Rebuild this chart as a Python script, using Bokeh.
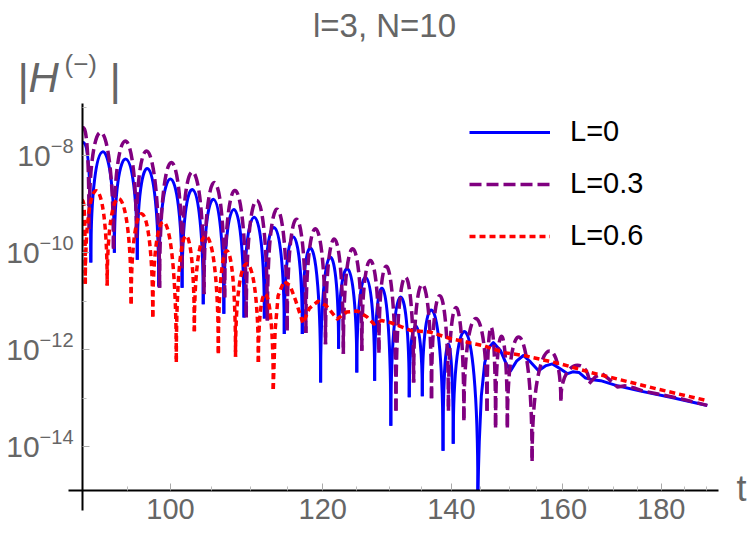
import math

from bokeh.plotting import figure
from bokeh.models import (ColumnDataSource, FixedTicker, CustomJSTickFormatter,
                          Label, Legend, LegendItem)
from bokeh.embed import file_html
from bokeh.resources import INLINE

# |H^(-)| against t for l=3, N=10.
# Ringing part of each curve: value at t=90, then the zeros (dips) and the maximum of
# every lobe between two neighbouring dips.  Late part: plain samples along the curve.

# L = 0
l0_start = (90.0, 1.9e-8)
l0_dip_t = [90.9, 93.5, 96.1, 98.6, 101.4, 104.0, 106.6, 109.2, 111.9, 114.6,
            117.1, 119.7, 122.3, 125.0, 127.7, 130.2, 133.1, 135.2, 138.6, 140.3, 144.5]
l0_dip_h = [6.3e-11, 1.0e-10, 7.2e-11, 2.0e-11, 1.9e-11, 8.7e-12, 5.5e-12,
            4.6e-12, 4.4e-12, 2.1e-12, 2.1e-12, 2.1e-13, 1.05e-12, 3.4e-13, 2.3e-13,
            2.7e-14, 1.05e-13, 1.1e-13, 8.3e-15, 1.15e-14, 1.25e-15]
l0_peak_h = [1.2e-8, 8.5e-9, 5.4e-9, 3.3e-9, 2.0e-9, 1.26e-9, 7.8e-10, 5.4e-10,
             3.3e-10, 2.1e-10, 1.2e-10, 7.9e-11, 4.6e-11, 3.1e-11, 1.8e-11, 1.2e-11,
             3.1e-12, 6.3e-12, 1.3e-12, 2.3e-12]
l0_tail_t = [144.5, 144.75, 145.1, 145.7, 146.4, 147.2, 148.5, 149.4, 150.3, 151.4,
             152.6, 153.9, 155.4, 156.8, 158.0, 159.4, 160.9, 161.9, 163.1, 164.4,
             165.8, 167.4, 170.8, 175.6, 182.0, 190.2]
l0_tail_h = [1.25e-15, 1.3e-14, 1.1e-13, 5.4e-13, 1.1e-12, 1.4e-12, 9.5e-13, 5.4e-13,
             3.7e-13, 5.9e-13, 7.6e-13, 5.6e-13, 3.7e-13, 4.7e-13, 5.1e-13, 4.1e-13,
             3.2e-13, 3.5e-13, 3.4e-13, 2.6e-13, 2.4e-13, 2.3e-13, 1.8e-13, 1.4e-13,
             1.05e-13, 7.1e-14]

# L = 0.3
l3_start = (90.0, 3.8e-8)
l3_dip_t = [90.7, 93.4, 96.0, 98.7, 101.4, 104.1, 106.7, 109.5, 112.3, 115.0,
            117.6, 120.4, 123.0, 125.75, 128.35, 131.0, 133.8, 136.7, 139.5, 142.1,
            146.1, 147.6, 149.7, 154.2, 159.6, 165.1]
l3_dip_h = [3.1e-10, 1.2e-10, 2.0e-10, 1.9e-11, 4.7e-11, 1.4e-11, 1.2e-11,
            4.6e-12, 4.0e-12, 2.5e-12, 2.2e-12, 1.3e-12, 8.3e-13, 9.5e-13, 8.7e-13,
            5.5e-14, 2.1e-13, 1.0e-13, 5.5e-14, 3.5e-14, 5.5e-14, 2.5e-14, 2.5e-14,
            5.1e-15, 8.9e-14, 2.0e-13]
l3_peak_h = [3.0e-8, 2.0e-8, 1.2e-8, 7.2e-9, 4.6e-9, 2.8e-9, 1.9e-9, 1.2e-9,
             7.9e-10, 4.9e-10, 3.1e-10, 1.9e-10, 1.2e-10, 6.9e-11, 5.0e-11, 3.1e-11,
             2.2e-11, 1.3e-11, 7.4e-12, 4.4e-12, 2.9e-12, 1.9e-12, 1.8e-12, 8.7e-13,
             4.7e-13]
l3_tail_t = [165.1, 166.4, 167.7, 169.0, 170.8, 172.4, 174.5, 176.2, 179.8, 184.2, 190.2]
l3_tail_h = [2.0e-13, 2.8e-13, 3.2e-13, 2.5e-13, 1.7e-13, 1.8e-13, 1.6e-13, 1.4e-13,
             1.2e-13, 9.8e-14, 7.1e-14]

# L = 0.6
l6_start = (90.0, 1.2e-9)
l6_dip_t = [90.3, 92.7, 95.4, 97.9, 100.7, 102.9, 105.9, 108.1, 111.1, 113.1]
l6_dip_h = [2.3e-11, 2.1e-11, 8.9e-12, 4.8e-12, 5.6e-13, 2.4e-12, 8.5e-13,
            7.2e-13, 5.6e-13, 1.55e-13]
l6_peak_h = [1.9e-9, 1.3e-9, 6.3e-10, 4.2e-10, 2.2e-10, 2.2e-10, 1.1e-10,
             5.9e-11, 1.4e-11]
l6_tail_t = [113.1, 113.35, 113.76, 114.55, 115.4, 116.2, 117.2, 118.1, 119.3, 120.5,
             122.1, 123.5, 125.1, 126.5, 127.6, 128.75, 130.2, 133.3, 136.5, 139.8,
             145.6, 149.1, 152.6, 159.6, 165.4, 171.4, 179.1, 190.2]
l6_tail_h = [1.55e-13, 2.5e-12, 1.3e-11, 2.6e-11, 2.1e-11, 1.0e-11, 3.5e-12, 7.1e-12,
             1.0e-11, 8.1e-12, 4.3e-12, 6.0e-12, 6.3e-12, 4.8e-12, 3.4e-12, 4.0e-12,
             3.6e-12, 2.5e-12, 2.3e-12, 1.7e-12, 1.2e-12, 8.7e-13, 7.6e-13, 5.1e-13,
             3.4e-13, 2.4e-13, 1.55e-13, 8.9e-14]

x_major = [100, 120, 140, 160, 180]
x_minor = [95, 105, 110, 115, 125, 130, 135, 145, 150, 155, 165, 170, 175, 185, 190]
y_major = [1e-14, 1e-12, 1e-10, 1e-8]
y_minor = [1e-13, 1e-11, 1e-9, 1e-7]
y_exponents = ["\u221214", "\u221212", "\u221210", "\u22128"]

T_MIN, H_MIN = 90.0, 10 ** -14.91          # where the two axes cross
series = [
    ("L=0", "#0000ff", 3.0, "solid", l0_start, l0_dip_t, l0_dip_h, l0_peak_h, l0_tail_t, l0_tail_h),
    ("L=0.3", "#800080", 3.5, "12 5", l3_start, l3_dip_t, l3_dip_h, l3_peak_h, l3_tail_t, l3_tail_h),
    ("L=0.6", "#ff0000", 3.5, "6 4", l6_start, l6_dip_t, l6_dip_h, l6_peak_h, l6_tail_t, l6_tail_h),
]

GRAY = "#666666"
FONT = "Liberation Sans"


def lobe_source(start, dip_t, dip_h, peak_h):
    """Cubic Bezier lobes: each leaves a dip vertically and tops out at the lobe maximum.
    The first piece runs from the value at t=90 down into the first dip."""
    cols = {k: [] for k in ("x0", "y0", "x1", "y1", "cx0", "cy0", "cx1", "cy1")}
    t0, h0 = start
    cols["x0"].append(t0); cols["y0"].append(h0)
    cols["x1"].append(dip_t[0]); cols["y1"].append(dip_h[0])
    cols["cx0"].append(t0 + (dip_t[0] - t0) / 3); cols["cy0"].append(h0)
    cols["cx1"].append(dip_t[0]); cols["cy1"].append(h0)
    for i, hp in enumerate(peak_h):
        la, lb = math.log10(dip_h[i]), math.log10(dip_h[i + 1])
        top = 10 ** ((math.log10(hp) - 0.125 * (la + lb)) / 0.75)
        cols["x0"].append(dip_t[i]); cols["y0"].append(dip_h[i])
        cols["x1"].append(dip_t[i + 1]); cols["y1"].append(dip_h[i + 1])
        cols["cx0"].append(dip_t[i]); cols["cy0"].append(top)
        cols["cx1"].append(dip_t[i + 1]); cols["cy1"].append(top)
    return ColumnDataSource(cols)


# the frame fills the page; both axes sit at fixed data positions inside it
p = figure(width=750, height=534, x_axis_type="log", y_axis_type="log",
           x_range=(81.58, 200.3), y_range=(10 ** -15.81, 10 ** -4.80),
           output_backend="svg", toolbar_location=None,
           min_border_left=0, min_border_right=0, min_border_top=0, min_border_bottom=0)
p.outline_line_color = None
p.background_fill_color = "white"
p.border_fill_color = "white"
p.xgrid.visible = False
p.ygrid.visible = False

legend_items = []
for name, color, width, dash, st, dt, dh, ph, tt, th in series:
    p.bezier(x0="x0", y0="y0", x1="x1", y1="y1", cx0="cx0", cy0="cy0", cx1="cx1", cy1="cy1",
             source=lobe_source(st, dt, dh, ph), line_color=color, line_width=width,
             line_dash=dash)
    r = p.line(tt, th, line_color=color, line_width=width, line_dash=dash, line_join="round")
    legend_items.append(LegendItem(label=name, renderers=[r]))

# axes
for ax in (p.xaxis[0], p.yaxis[0]):
    ax.axis_line_color = "black"
    ax.axis_line_width = 2
    ax.major_tick_in = 7
    ax.major_tick_out = 0
    ax.minor_tick_in = 4
    ax.minor_tick_out = 0
    ax.major_tick_line_color = "#aaaaaa"
    ax.minor_tick_line_color = "#bbbbbb"
    ax.major_label_text_color = GRAY
    ax.major_label_text_font = FONT
    ax.major_label_text_font_size = "29px"

p.xaxis.fixed_location = H_MIN
p.xaxis.bounds = (88.5, 192.8)
p.xaxis.ticker = FixedTicker(ticks=x_major, minor_ticks=x_minor)
p.xaxis.formatter = CustomJSTickFormatter(code="return tick.toFixed(0);")
p.xaxis.major_label_standoff = 8

p.yaxis.fixed_location = T_MIN
p.yaxis.bounds = (10 ** -15.32, 10 ** -6.93)
p.yaxis.ticker = FixedTicker(ticks=y_major, minor_ticks=y_minor)
# y tick labels are set as "10" with a raised exponent, right-aligned against the axis
p.yaxis.formatter = CustomJSTickFormatter(code="return '';")
LABEL_RIGHT = 73
for tick, expo in zip(y_major, y_exponents):
    split = LABEL_RIGHT - 20 * (0.584 + 0.556 * (len(expo) - 1))
    p.add_layout(Label(x=split, y=tick, x_units="screen", y_units="data", text="10",
                       text_font=FONT, text_font_size="30px", text_color=GRAY,
                       text_align="right", text_baseline="middle"))
    p.add_layout(Label(x=split, y=tick, x_units="screen", y_units="data", text=expo,
                       y_offset=10, text_font=FONT, text_font_size="20px", text_color=GRAY,
                       text_align="left", text_baseline="middle"))

# legend
legend = Legend(items=legend_items, location=(469, 282), orientation="vertical",
                border_line_color=None, background_fill_alpha=0,
                label_text_font=FONT, label_text_font_size="29px", label_text_color="black",
                glyph_width=81, glyph_height=30, label_height=30, spacing=19,
                label_standoff=20, padding=0, margin=0)
p.add_layout(legend)

# title and axis names
p.add_layout(Label(x=384, y=509, x_units="screen", y_units="screen", text="l=3, N=10",
                   text_font=FONT, text_font_size="33px", text_color=GRAY,
                   text_align="center", text_baseline="middle"))
p.add_layout(Label(x=741, y=46, x_units="screen", y_units="screen", text="t",
                   text_font=FONT, text_font_size="36px", text_color=GRAY,
                   text_align="center", text_baseline="middle"))
for txt, fx, fy, size, style in [("|", 17, 455, "44px", "normal"),
                                 ("H", 28, 457, "42px", "italic"),
                                 ("(\u2212)", 64, 471, "26px", "normal"),
                                 ("|", 109, 455, "44px", "normal")]:
    p.add_layout(Label(x=fx, y=fy, x_units="screen", y_units="screen", text=txt,
                       text_font=FONT, text_font_size=size, text_font_style=style,
                       text_color=GRAY, text_align="left", text_baseline="middle"))

open("out.html", "w").write(file_html(p, INLINE))
